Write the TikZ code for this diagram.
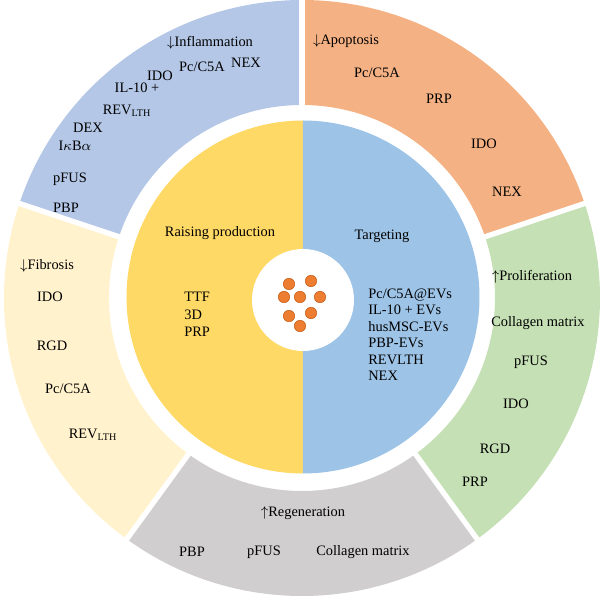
\documentclass[tikz,border=0pt]{standalone}
\usepackage{fontspec}
\setmainfont{Liberation Serif}
\usepackage{xcolor}
\usetikzlibrary{calc}

\definecolor{ringblue}{HTML}{B4C7E7}
\definecolor{ringorange}{HTML}{F4B183}
\definecolor{ringgreen}{HTML}{C5E0B4}
\definecolor{ringgray}{HTML}{D0CECE}
\definecolor{ringyellow}{HTML}{FFF2CC}
\definecolor{coreyellow}{HTML}{FFD966}
\definecolor{coreblue}{HTML}{9DC3E6}
\definecolor{dotorange}{HTML}{ED7D31}
\definecolor{dotedge}{HTML}{C55A11}

% one coloured piece of the outer ring: colour, start angle, end angle
\newcommand{\ringsector}[3]{%
  \fill[#1] (#2:298) arc[start angle=#2, end angle=#3, radius=298]
    -- (#3:193) arc[start angle=#3, end angle=#2, radius=193] -- cycle;}

\begin{document}
\begin{tikzpicture}[x=0.02cm, y=0.02cm,
    every node/.style={font=\fontsize{8.2}{9.8}\selectfont},
    lbl/.style={inner sep=0pt}]
    \useasboundingbox (-302,-301) rectangle (298,298);

    % Vòng ngoài
    \ringsector{ringblue}{90}{161.5}
    \ringsector{ringorange}{18.5}{90}
    \ringsector{ringgreen}{-54}{18.5}
    \ringsector{ringgray}{-126}{-54}
    \ringsector{ringyellow}{161.5}{234}
    \foreach \a in {90, 18.5, -54, -126, 161.5}
        \draw[white, line width=3pt] (\a:185) -- (\a:305);

    % Hình tròn trong
    \fill[coreyellow] (1,1) ++(90:176.5) arc[start angle=90, end angle=270, radius=176.5] -- cycle;
    \fill[coreblue] (1,1) ++(-90:176.5) arc[start angle=-90, end angle=90, radius=176.5] -- cycle;
    \fill[white] (1,-2) circle[radius=51];
    \foreach \p in {(-13,14), (9,17), (-18,1), (-2,1), (18,1), (-13,-18), (9,-15), (-2,-28)}
        \filldraw[fill=dotorange, draw=dotedge, line width=0.3pt] \p circle[radius=5.7];

    % Inflammation
    \node[lbl] (infl) at (-92,255) {$\downarrow$Inflammation};
    \node[lbl] (inflpc) at (-100,231) {Pc/C5A};
    \node[lbl] (inflnex) at (-56,235) {NEX};
    \node[lbl] (inflido) at (-142,222) {IDO};
    \node[lbl] (infl10) at (-165,210) {IL-10 +};
    \node[lbl] (inflrev) at (-175,187) {REV\textsubscript{LTH}};
    \node[lbl] (infldex) at (-214,170) {DEX};
    \node[lbl] (inflikb) at (-227,152) {I$\kappa$B$\alpha$};
    \node[lbl] (inflfus) at (-232,119) {pFUS};
    \node[lbl] (inflpbp) at (-236,90) {PBP};

    % Apoptosis
    \node[lbl] (apo) at (44,257) {$\downarrow$Apoptosis};
    \node[lbl] (apopc) at (75,225) {Pc/C5A};
    \node[lbl] (apoprp) at (137,199) {PRP};
    \node[lbl] (apoido) at (182,154) {IDO};
    \node[lbl] (aponex) at (205,106) {NEX};

    % Proliferation
    \node[lbl] (prol) at (230,21) {$\uparrow$Proliferation};
    \node[lbl] (prolcol) at (236,-25) {Collagen matrix};
    \node[lbl] (prolfus) at (229,-64) {pFUS};
    \node[lbl] (prolido) at (214,-106) {IDO};
    \node[lbl] (prolrgd) at (193,-151) {RGD};
    \node[lbl] (prolprp) at (173,-184) {PRP};

    % Regeneration
    \node[lbl] (regen) at (1,-215) {$\uparrow$Regeneration};
    \node[lbl] (regpbp) at (-110,-254) {PBP};
    \node[lbl] (regfus) at (-38,-254) {pFUS};
    \node[lbl] (regcol) at (61,-254) {Collagen matrix};

    % Fibrosis
    \node[lbl] (fib) at (-255,32) {$\downarrow$Fibrosis};
    \node[lbl] (fibido) at (-252,1) {IDO};
    \node[lbl] (fibrgd) at (-250,-48) {RGD};
    \node[lbl] (fibpc) at (-234,-91) {Pc/C5A};
    \node[lbl] (fibrev) at (-209,-137) {REV\textsubscript{LTH}};

    % Hai nửa bên trong
    \node[lbl] (raise) at (-82,65) {Raising production};
    \node[lbl, anchor=west, align=left, font=\fontsize{8.2}{9.9}\selectfont] (raiselist) at (-118,-16.5) {TTF\\3D\\PRP};
    \node[lbl] (target) at (80,62) {Targeting};
    \node[lbl, anchor=west, align=left, font=\fontsize{8.2}{9.4}\selectfont] (targetlist) at (66,-36.5)
        {Pc/C5A@EVs\\IL-10 + EVs\\husMSC-EVs\\PBP-EVs\\REVLTH\\NEX};
\end{tikzpicture}
\end{document}
